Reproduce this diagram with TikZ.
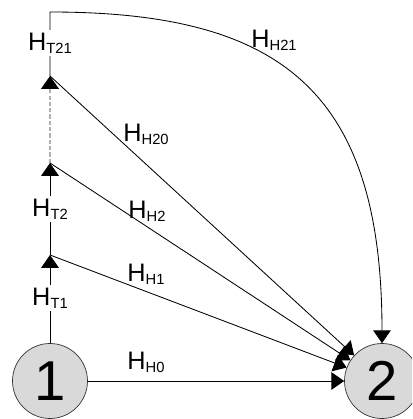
\documentclass[tikz,border=0pt]{standalone}
\usepackage{fontspec}
\setmainfont{Liberation Sans}
\usetikzlibrary{arrows.meta,positioning}
\definecolor{nodegray}{HTML}{D9D9D9}
\definecolor{dashgray}{HTML}{B0B0B0}

\newcommand{\hlab}[1]{H\raisebox{-2pt}{\fontsize{10.5}{10.5}\selectfont #1}}

\begin{document}
\begin{tikzpicture}[
  every node/.style={font=\fontsize{18}{20}\selectfont},
  stn/.style ={circle, draw=black!80, fill=nodegray, line width=0.5pt,
               minimum size=1.875cm, inner sep=0pt,
               font=\fontsize{40}{40}\selectfont},
  lbl/.style ={inner sep=1pt},
  vlbl/.style={lbl, fill=white, inner sep=2pt},
  arr/.style ={-{Triangle[width=0.44cm,length=0.32cm]}, line width=0.6pt},
  dsh/.style ={arr, draw=dashgray, line width=1pt, dash pattern=on 3pt off 1.5pt,
               -{Triangle[width=0.44cm,length=0.32cm,color=black]}}
]
\path[use as bounding box, clip] (-1.25,-0.95) rectangle (9.05,9.525);

%% ─── stations ──────────────────────────────────────────────────────────────
\node[stn] (n1) at (0,0)   {1};
\node[stn] (n2) at (8.3,0) {2};

\coordinate (p1)  at (0,3.15);
\coordinate (p2)  at (0,5.45);
\coordinate (p3)  at (0,7.625);
\coordinate (top) at (0,9.225);

%% ─── hops ──────────────────────────────────────────────────────────────────
\draw[arr] (n1)--(p1);
\draw[arr] (p1)--(p2);
\draw[dsh] (p2)--(p3);
\draw[arr] (p3) -- (top) .. controls (5.75,9.225) and (8.3,7.275) .. (n2.north);

\draw[arr] (n1)--(n2);
\foreach \p in {p1, p2, p3}
  \draw[arr] (\p)--(n2);

%% ─── labels ────────────────────────────────────────────────────────────────
\node[vlbl] (l_t1)  at (0,2.075)    {\hlab{T1}};
\node[vlbl] (l_t2)  at (0,4.3)      {\hlab{T2}};
\node[vlbl] (l_t21) at (0,8.45)     {\hlab{T21}};
\node[lbl]  (l_h0)  at (2.4,0.475)  {\hlab{H0}};
\node[lbl]  (l_h1)  at (2.4,2.675)  {\hlab{H1}};
\node[lbl]  (l_h2)  at (2.425,4.25) {\hlab{H2}};
\node[lbl]  (l_h20) at (2.4,6.175)  {\hlab{H20}};
\node[lbl]  (l_h21) at (5.6,8.525)  {\hlab{H21}};

\end{tikzpicture}
\end{document}
